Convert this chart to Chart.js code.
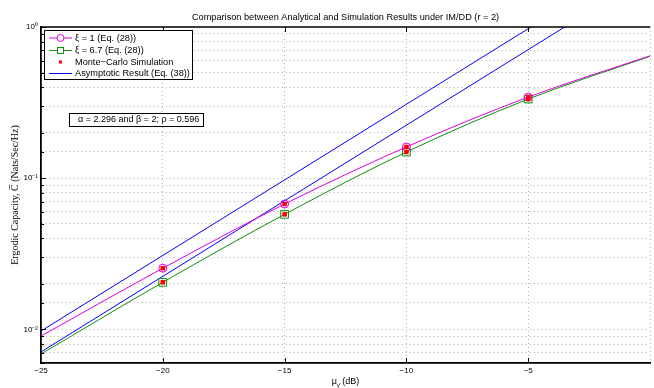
<!DOCTYPE html>
<html>
<head>
<meta charset="utf-8">
<script src="https://cdn.jsdelivr.net/npm/chart.js@4.4.0/dist/chart.umd.min.js"></script>
<style>
  html, body { margin: 0; padding: 0; background: #fff; }
</style>
</head>
<body>
<canvas id="capChart" width="654" height="388"></canvas>
<script>
// values (x in dB, y = ergodic capacity)
var snr = [-25, -20, -15, -10, -5, 0];
var capXi1 = [0.00904, 0.0254, 0.0675, 0.161, 0.344, 0.645];
var capXi67 = [0.00688, 0.0205, 0.0577, 0.149, 0.334, 0.640];

var simSnr = [-20, -15, -10, -5];
var simXi1 = [0.0254, 0.0675, 0.161, 0.344];
var simXi67 = [0.0205, 0.0577, 0.149, 0.334];

var asymSnr = [-25, 0];
var asymXi1 = [0.00976, 3.08];
var asymXi67 = [0.0071, 2.24];

var xTicks = [-25, -20, -15, -10, -5, 0];
var xTickLabels = ['\u221225', '\u221220', '\u221215', '\u221210', '\u22125', ''];
var yTicks = [0.01, 0.1, 1];
var yTickLabels = ['10\u207B\u00B2', '10\u207B\u00B9', '10\u2070'];

var SANS = 'Liberation Sans';

function pts(xs, ys) {
    return xs.map(function (x, i) { return { x: x, y: ys[i] }; });
}
// markers only where the figure shows them
function markerRadius(r) {
    return snr.map(function (x) { return simSnr.indexOf(x) >= 0 ? r : 0; });
}

// title, box, inward ticks, legend and note drawn over the chart
var decor = {
    id: 'decor',
    beforeDraw: function (chart) {
        var ctx = chart.ctx;
        ctx.save();
        ctx.fillStyle = '#fff';
        ctx.fillRect(0, 0, chart.width, chart.height);
        ctx.restore();
    },
    afterDraw: function (chart) {
        var ctx = chart.ctx, a = chart.chartArea;
        var xs = chart.scales.x, ys = chart.scales.y;
        ctx.save();

        // top border
        ctx.strokeStyle = '#000';
        ctx.lineWidth = 1.5;
        ctx.beginPath();
        ctx.moveTo(a.left, a.top);
        ctx.lineTo(a.right, a.top);
        ctx.stroke();

        // inward tick marks
        ctx.lineWidth = 1;
        ctx.beginPath();
        xTicks.forEach(function (v) {
            if (v === xTicks[0] || v === xTicks[xTicks.length - 1]) return;
            var px = Math.round(xs.getPixelForValue(v)) + 0.5;
            ctx.moveTo(px, a.bottom); ctx.lineTo(px, a.bottom - 5);
            ctx.moveTo(px, a.top); ctx.lineTo(px, a.top + 5);
        });
        ys.ticks.forEach(function (t) {
            var lg = Math.log10(t.value);
            var major = Math.abs(lg - Math.round(lg)) < 1e-6;
            var py = Math.round(ys.getPixelForValue(t.value)) + 0.5;
            ctx.moveTo(a.left, py); ctx.lineTo(a.left + (major ? 5 : 3), py);
        });
        ctx.stroke();

        // chart title
        ctx.fillStyle = '#000';
        ctx.font = '9.2px "' + SANS + '"';
        ctx.textAlign = 'center';
        ctx.textBaseline = 'middle';
        ctx.fillText('Comparison between Analytical and Simulation Results under IM/DD (r = 2)', (a.left + a.right) / 2, 17);

        // x axis title: mu with subscript gamma-bar
        var big = '9px "' + SANS + '"', small = '6px "' + SANS + '"';
        ctx.font = big;
        var w1 = ctx.measureText('\u03BC').width;
        var w3 = ctx.measureText(' (dB)').width;
        ctx.font = small;
        var w2 = ctx.measureText('\u03B3\u0304').width;
        var x0 = (a.left + a.right) / 2 - (w1 + w2 + w3) / 2;
        ctx.textAlign = 'left';
        ctx.font = big;
        ctx.fillText('\u03BC', x0, 382);
        ctx.font = small;
        ctx.fillText('\u03B3\u0304', x0 + w1, 385);
        ctx.font = big;
        ctx.fillText(' (dB)', x0 + w1 + w2, 382);

        // parameter note
        ctx.fillStyle = '#fff';
        ctx.fillRect(69, 113, 134, 13);
        ctx.strokeStyle = '#000';
        ctx.lineWidth = 1;
        ctx.strokeRect(69.5, 113.5, 134, 13);
        ctx.fillStyle = '#000';
        ctx.font = '9px "' + SANS + '"';
        ctx.fillText('\u03B1 = 2.296 and \u03B2 = 2; \u03C1 = 0.596', 78, 120);

        // legend
        var ds = chart.data.datasets;
        var rows = [ds[1], ds[2], ds[0], ds[3]];
        var rowY = [38, 50.5, 62, 73.5];
        ctx.fillStyle = '#fff';
        ctx.fillRect(44, 30, 149, 50);
        ctx.strokeRect(44.5, 30.5, 148, 49);
        rows.forEach(function (d, i) {
            var y = rowY[i];
            if (d.showLine !== false) {
                ctx.strokeStyle = d.borderColor;
                ctx.lineWidth = 1;
                ctx.beginPath();
                ctx.moveTo(49, y); ctx.lineTo(72, y);
                ctx.stroke();
            }
            if (d.pointStyle === 'circle' && d.showLine !== false) {
                ctx.fillStyle = '#fff';
                ctx.beginPath();
                ctx.arc(60.5, y, 3.5, 0, Math.PI * 2);
                ctx.fill(); ctx.stroke();
            } else if (d.pointStyle === 'rect' && d.showLine !== false) {
                ctx.fillStyle = '#fff';
                ctx.fillRect(57.5, y - 3, 6, 6);
                ctx.strokeRect(57.5, y - 3, 6, 6);
            } else if (d.showLine === false) {
                ctx.fillStyle = d.backgroundColor;
                ctx.fillRect(59, y - 1.5, 3, 3);
            }
            ctx.fillStyle = '#000';
            ctx.font = '9.2px "' + SANS + '"';
            ctx.fillText(d.label, 75, y);
        });

        ctx.restore();
    }
};

var gridStyle = { color: 'rgba(0,0,0,0.3)', lineWidth: 1, drawTicks: false };
var borderStyle = { color: '#000', width: 1.8, dash: [1, 3] };

var ctx = document.getElementById('capChart').getContext('2d');
var capChart = new Chart(ctx, {
    type: 'line',
    data: {
        datasets: [{
            label: 'Monte\u2212Carlo Simulation',
            data: pts(simSnr, simXi1).concat(pts(simSnr, simXi67)),
            showLine: false,
            pointStyle: 'rect',
            pointRadius: 3.2,
            borderWidth: 0,
            backgroundColor: '#ff0000',
            borderColor: '#ff0000',
            order: 0
        }, {
            label: '\u03BE = 1 (Eq. (28))',
            data: pts(snr, capXi1),
            borderColor: '#e000e0',
            borderWidth: 1,
            pointStyle: 'circle',
            pointRadius: markerRadius(4),
            pointBorderWidth: 1,
            pointBackgroundColor: 'rgba(0,0,0,0)',
            cubicInterpolationMode: 'monotone',
            order: 1
        }, {
            label: '\u03BE = 6.7 (Eq. (28))',
            data: pts(snr, capXi67),
            borderColor: '#109010',
            borderWidth: 1,
            pointStyle: 'rect',
            pointRadius: markerRadius(5.5),
            pointBorderWidth: 1,
            pointBackgroundColor: 'rgba(0,0,0,0)',
            cubicInterpolationMode: 'monotone',
            order: 2
        }, {
            label: 'Asymptotic Result (Eq. (38))',
            data: pts(asymSnr, asymXi1),
            borderColor: '#0000ff',
            borderWidth: 1,
            pointRadius: 0,
            order: 3
        }, {
            label: 'Asymptotic Result (Eq. (38))',
            data: pts(asymSnr, asymXi67),
            borderColor: '#0000ff',
            borderWidth: 1,
            pointRadius: 0,
            order: 4
        }]
    },
    options: {
        responsive: false,
        animation: false,
        devicePixelRatio: 1,
        layout: { padding: { top: 27, left: 0, right: 0, bottom: 0 } },
        plugins: {
            legend: { display: false },
            title: { display: false },
            tooltip: { enabled: false }
        },
        scales: {
            x: {
                type: 'linear',
                min: -25,
                max: 0,
                afterFit: function (s) { s.height = 25; },
                afterBuildTicks: function (s) {
                    s.ticks = xTicks.map(function (v) { return { value: v }; });
                },
                grid: gridStyle,
                border: borderStyle,
                ticks: {
                    autoSkip: false,
                    maxRotation: 0,
                    padding: 3,
                    color: '#000',
                    font: { family: SANS, size: 8 },
                    callback: function (v) {
                        var i = xTicks.indexOf(v);
                        return i >= 0 ? xTickLabels[i] : '';
                    }
                }
            },
            y: {
                type: 'logarithmic',
                min: 0.006,
                max: 1,
                afterFit: function (s) { s.width = 41; },
                grid: gridStyle,
                border: borderStyle,
                ticks: {
                    autoSkip: false,
                    padding: 3,
                    color: '#000',
                    font: { family: SANS, size: 8 },
                    callback: function (v) {
                        for (var i = 0; i < yTicks.length; i++) {
                            if (Math.abs(v - yTicks[i]) < yTicks[i] * 1e-6) return yTickLabels[i];
                        }
                        return '';
                    }
                },
                title: {
                    display: true,
                    text: 'Ergodic Capacity, C\u0305 (Nats/Sec/Hz)',
                    color: '#000',
                    font: { family: 'Liberation Serif', size: 10 },
                    padding: { top: 9, bottom: 0 }
                }
            }
        }
    },
    plugins: [decor]
});
</script>
</body>
</html>
